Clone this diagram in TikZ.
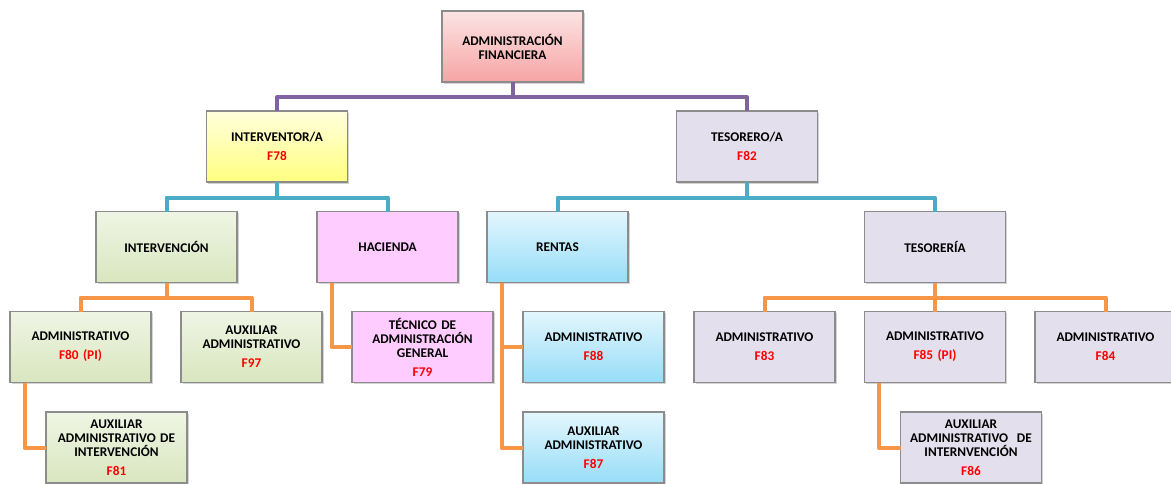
\documentclass[tikz,border=0pt]{standalone}
\usepackage{fontspec}
\setmainfont{Carlito}
\usetikzlibrary{shadows}
\definecolor{boxline}{HTML}{8C8C8C}
\definecolor{lav}{HTML}{E4DFEC}
\definecolor{hacpink}{HTML}{FFCCFF}
\definecolor{greentop}{HTML}{EFF5E4}
\definecolor{greenbot}{HTML}{D9E6BF}
\definecolor{bluetop}{HTML}{E3F6FD}
\definecolor{bluebot}{HTML}{97DDF8}
\definecolor{redtop}{HTML}{FCE4E4}
\definecolor{redbot}{HTML}{F7A4A4}
\definecolor{yeltop}{HTML}{FFFFDC}
\definecolor{yelbot}{HTML}{FFFF80}
\definecolor{linepurple}{HTML}{8064A2}
\definecolor{lineblue}{HTML}{4BACC6}
\definecolor{lineorange}{HTML}{F79646}
\definecolor{codered}{HTML}{FF0000}

\begin{document}
\begin{tikzpicture}
  [x=1pt,y=-1pt,
   every node/.style={rectangle, draw=boxline, line width=1.2pt, minimum width=141pt, minimum height=71pt,
     inner sep=2pt, outer sep=0pt, align=center, text width=134pt,
     font=\fontsize{13.3}{14}\selectfont\bfseries,
     drop shadow={shadow xshift=1.5pt, shadow yshift=-1.5pt, opacity=0.35}},
   rbox/.style={top color=redtop, bottom color=redbot},
   ybox/.style={top color=yeltop, bottom color=yelbot},
   lbox/.style={fill=lav},
   gbox/.style={top color=greentop, bottom color=greenbot},
   pbox/.style={fill=hacpink},
   bbox/.style={top color=bluetop, bottom color=bluebot},
   link/.style={line width=4pt, line join=round}]
  \useasboundingbox (0,0) rectangle (1171,483);
  \node [rbox] (af)   at (512.5,46.5) {ADMINISTRACIÓN\\FINANCIERA};
  \node [ybox] (int)  at (277,146.5)  {INTERVENTOR/A\\[5pt]\textcolor{codered}{F78}};
  \node [lbox] (tes)  at (747,146.5)  {TESORERO/A\\[5pt]\textcolor{codered}{F82}};
  \node [gbox] (intv) at (166.5,247)  {INTERVENCIÓN};
  \node [pbox] (hac)  at (387.5,247)  {HACIENDA};
  \node [bbox] (ren)  at (557.5,247)  {RENTAS};
  \node [lbox] (tsr)  at (935,247)    {TESORERÍA};
  \node [gbox] (a80)  at (80.5,347)   {ADMINISTRATIVO\\[5pt]\textcolor{codered}{F80 (PI)}};
  \node [gbox] (a97)  at (251.5,347)  {AUXILIAR\\ADMINISTRATIVO\\[5pt]\textcolor{codered}{F97}};
  \node [pbox] (tec)  at (422.5,347)  {TÉCNICO DE\\ADMINISTRACIÓN\\GENERAL\\[5pt]\textcolor{codered}{F79}};
  \node [bbox] (a88)  at (593.5,347)  {ADMINISTRATIVO\\[5pt]\textcolor{codered}{F88}};
  \node [bbox] (a87)  at (593.5,447.5) {AUXILIAR\\ADMINISTRATIVO\\[5pt]\textcolor{codered}{F87}};
  \node [gbox] (a81)  at (116.5,447.5) {AUXILIAR\\ADMINISTRATIVO DE\\INTERVENCIÓN\\[5pt]\textcolor{codered}{F81}};
  \node [lbox] (a83)  at (764.5,347)  {ADMINISTRATIVO\\[5pt]\textcolor{codered}{F83}};
  \node [lbox] (a85)  at (935,347)    {ADMINISTRATIVO\\[5pt]\textcolor{codered}{F85 (PI)}};
  \node [lbox] (a84)  at (1105.5,347) {ADMINISTRATIVO\\[5pt]\textcolor{codered}{F84}};
  \node [lbox] (a86)  at (971,447.5)  {AUXILIAR\\ADMINISTRATIVO\ \ DE\\INTERNVENCIÓN\\[5pt]\textcolor{codered}{F86}};

  \foreach \from/\to in {af/int,af/tes}
    \draw [link, linepurple] (\from.south) -- ++(0,15) -| (\to.north);
  \foreach \from/\to in {int/intv,int/hac,tes/ren,tes/tsr}
    \draw [link, lineblue] (\from.south) -- ++(0,15.5) -| (\to.north);
  \foreach \from/\to in {intv/a80,intv/a97,tsr/a83,tsr/a85,tsr/a84}
    \draw [link, lineorange] (\from.south) -- ++(0,15) -| (\to.north);
  \foreach \from/\to in {hac/tec,ren/a88,ren/a87,a80/a81,a85/a86}
    \draw [link, lineorange] ([xshift=14.5pt]\from.south west) |- (\to.west);
\end{tikzpicture}
\end{document}
